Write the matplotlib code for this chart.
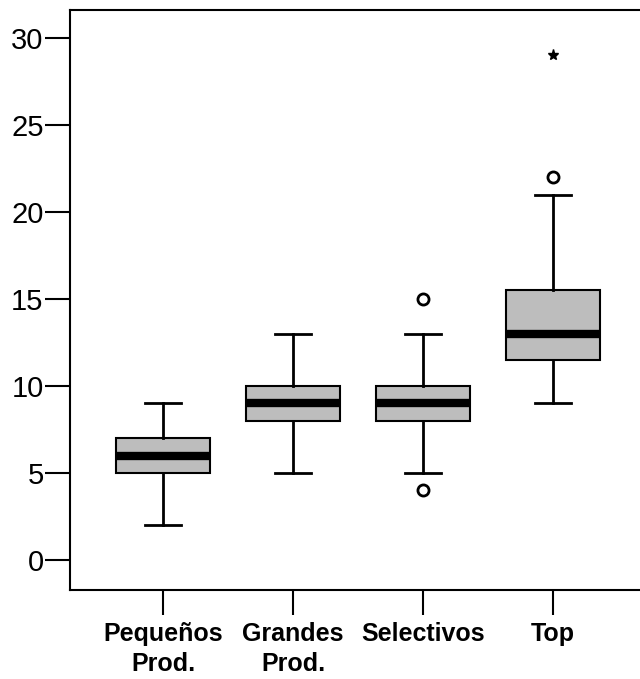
import matplotlib
matplotlib.use("Agg")
import matplotlib.pyplot as plt

# datos
grupos = ["Pequeños\nProd.", "Grandes\nProd.", "Selectivos", "Top"]
minimos = [2, 5, 5, 9]
q1 = [5, 8, 8, 11.5]
medianas = [6, 9, 9, 13]
q3 = [7, 10, 10, 15.5]
maximos = [9, 13, 13, 21]
atipicos = [[], [], [4, 15], [22]]
extremos = [[], [], [], [29]]

plt.rcParams['font.family'] = ['Liberation Sans', 'DejaVu Sans']

fig = plt.figure(figsize=(6.4, 6.79), dpi=100)
ax = fig.add_axes([70 / 640, 89 / 679, 590 / 640, 580 / 679])

stats = []
for i, g in enumerate(grupos):
    stats.append({
        'label': g,
        'whislo': minimos[i],
        'q1': q1[i],
        'med': medianas[i],
        'q3': q3[i],
        'whishi': maximos[i],
        'fliers': atipicos[i],
    })

pos = list(range(1, len(grupos) + 1))
ax.bxp(stats, positions=pos, widths=0.72, patch_artist=True, showfliers=True,
       boxprops=dict(facecolor='#bdbdbd', edgecolor='black', linewidth=1.5),
       medianprops=dict(color='black', linewidth=6, solid_capstyle='butt'),
       whiskerprops=dict(color='black', linewidth=2),
       capprops=dict(color='black', linewidth=2),
       capwidths=0.27,
       flierprops=dict(marker='o', markersize=8, markerfacecolor='white',
                       markeredgecolor='black', markeredgewidth=2))

for i, ext in enumerate(extremos):
    for v in ext:
        ax.plot(pos[i], v, marker='*', color='black', markersize=8, linestyle='none')

ax.set_xlim(1 - 93 / 130, 1 - 93 / 130 + 590 / 130)
ax.set_ylim(-1.72, 31.6)
ax.set_yticks([0, 5, 10, 15, 20, 25, 30])
ax.set_xticks(pos)
ax.set_xticklabels(grupos, fontsize=18, fontweight='bold', linespacing=1.3)
ax.tick_params(axis='y', labelsize=21, length=18, width=1.5, pad=1)
ax.tick_params(axis='x', length=18, width=1.5, pad=5)
for s in ax.spines.values():
    s.set_linewidth(1.5)

fig.savefig("out.png", dpi=100)
